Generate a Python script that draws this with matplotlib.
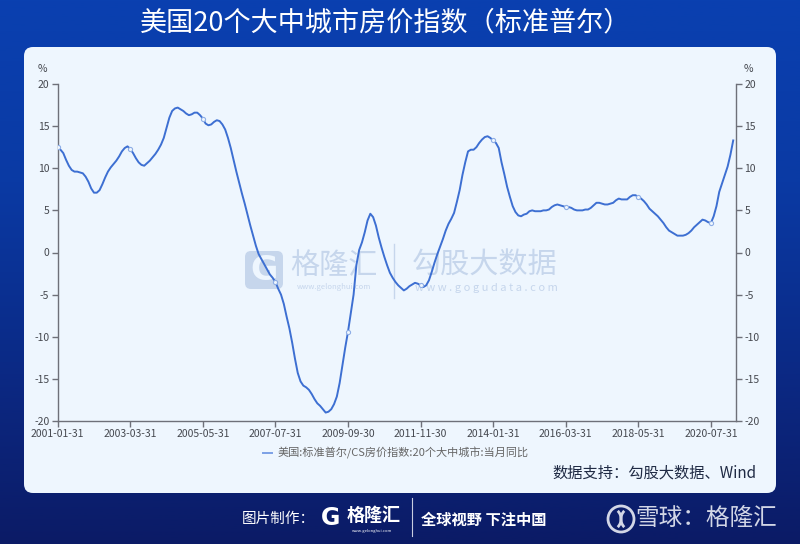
import matplotlib
matplotlib.use('Agg')
import matplotlib.pyplot as plt
from matplotlib.patches import FancyBboxPatch, Circle, Arc
from matplotlib.colors import LinearSegmentedColormap
import numpy as np

plt.rcParams['font.family'] = ['Noto Sans CJK SC', 'DejaVu Sans']
plt.rcParams['axes.unicode_minus'] = False

title = '美国20个大中城市房价指数（标准普尔）'
series_name = '美国:标准普尔/CS房价指数:20个大中城市:当月同比'
source = '数据支持：勾股大数据、Wind'

# monthly YoY %, 2001-01 .. 2021-03
yoy = [
    12.5, 12.2, 11.8, 11.0, 10.3, 9.8, 9.6, 9.6, 9.5, 9.4, 9.0, 8.4,        # 2001
    7.6, 7.1, 7.1, 7.4, 8.1, 8.9, 9.6, 10.1, 10.5, 10.9, 11.4, 12.0,        # 2002
    12.4, 12.6, 12.3, 11.8, 11.2, 10.7, 10.4, 10.3, 10.6, 10.9, 11.3, 11.7, # 2003
    12.2, 12.8, 13.6, 14.8, 16.0, 16.8, 17.1, 17.2, 17.0, 16.8, 16.5, 16.3, # 2004
    16.4, 16.6, 16.6, 16.3, 15.9, 15.3, 15.1, 15.2, 15.5, 15.7, 15.6, 15.2, # 2005
    14.6, 13.6, 12.4, 11.0, 9.6, 8.3, 7.0, 5.8, 4.5, 3.2, 2.0, 0.8,         # 2006
    -0.2, -0.8, -1.4, -2.0, -2.6, -3.0, -3.5, -4.3, -5.0, -6.1, -7.6, -9.0, # 2007
    -10.7, -12.6, -14.3, -15.3, -15.8, -16.0, -16.3, -16.8, -17.4, -17.9, -18.2, -18.6,  # 2008
    -19.0, -18.9, -18.6, -18.0, -17.1, -15.5, -13.4, -11.3, -9.4, -7.2, -5.0, -1.5,      # 2009
    0.3, 1.2, 2.4, 3.8, 4.6, 4.2, 3.2, 1.8, 0.6, -0.5, -1.5, -2.4,          # 2010
    -3.0, -3.5, -3.9, -4.2, -4.5, -4.3, -4.0, -3.8, -3.6, -3.7, -3.9, -4.1, # 2011
    -3.9, -3.3, -2.3, -1.2, -0.2, 0.7, 1.6, 2.6, 3.4, 4.0, 4.7, 6.0,        # 2012
    7.4, 9.2, 10.7, 12.0, 12.2, 12.2, 12.5, 13.0, 13.4, 13.7, 13.8, 13.6,   # 2013
    13.3, 13.0, 12.4, 10.7, 9.3, 7.8, 6.6, 5.5, 4.8, 4.4, 4.3, 4.5,         # 2014
    4.6, 4.9, 5.0, 4.9, 4.9, 4.9, 5.0, 5.0, 5.1, 5.4, 5.6, 5.7,             # 2015
    5.6, 5.5, 5.4, 5.4, 5.3, 5.1, 5.0, 5.0, 5.0, 5.1, 5.1, 5.3,             # 2016
    5.6, 5.9, 5.9, 5.8, 5.7, 5.7, 5.8, 5.9, 6.2, 6.4, 6.3, 6.3,             # 2017
    6.3, 6.6, 6.8, 6.8, 6.6, 6.4, 6.1, 5.7, 5.2, 4.9, 4.6, 4.3,             # 2018
    3.9, 3.5, 3.0, 2.6, 2.4, 2.2, 2.0, 2.0, 2.0, 2.1, 2.3, 2.6,             # 2019
    3.0, 3.3, 3.6, 3.9, 3.8, 3.6, 3.5, 4.3, 5.5, 7.2, 8.2, 9.2,             # 2020
    10.2, 11.6, 13.3,                                                       # 2021
]

tick_labels = ['2001-01-31', '2003-03-31', '2005-05-31', '2007-07-31', '2009-09-30',
               '2011-11-30', '2014-01-31', '2016-03-31', '2018-05-31', '2020-07-31']
yticks = [-20, -15, -10, -5, 0, 5, 10, 15, 20]

fig = plt.figure(figsize=(8, 5.44), dpi=100)

# background layer, in pixel units
bg = fig.add_axes([0, 0, 1, 1])
bg.set_xlim(0, 800)
bg.set_ylim(544, 0)
bg.axis('off')
grad = np.linspace(0, 1, 256).reshape(-1, 1)
cmap = LinearSegmentedColormap.from_list('bgc', ['#0a40b0', '#0a3aa4', '#0b2a86', '#0b1b66'])
bg.imshow(grad, cmap=cmap, extent=[0, 800, 544, 0], aspect='auto')

panel = FancyBboxPatch((24, 47), 752, 446, boxstyle='round,pad=0,rounding_size=9',
                       facecolor='#eef6fe', edgecolor='none')
bg.add_patch(panel)

bg.text(386, 23, title, color='white', fontsize=19.5, ha='center', va='center')

# watermark
wm = '#c6d6ec'
bg.add_patch(FancyBboxPatch((245, 251), 38, 38, boxstyle='round,pad=0,rounding_size=6',
                            facecolor=wm, edgecolor='none'))
bg.text(264, 270, 'G', color='#eef6fe', fontsize=24, fontweight='bold', ha='center', va='center',
        family='DejaVu Sans')
bg.text(334, 266, '格隆汇', color=wm, fontsize=21, ha='center', va='center')
bg.text(334, 287, 'www.gelonghui.com', color=wm, fontsize=5.5, ha='center', va='center')
bg.plot([394, 394], [244, 298], color=wm, lw=1)
bg.text(485, 266, '勾股大数据', color=wm, fontsize=21, ha='center', va='center')
bg.text(486, 288, 'w w w . g o g u d a t a . c o m', color=wm, fontsize=8, ha='center', va='center')

bg.text(757, 473, source, color='#1f2a44', fontsize=11, ha='right', va='center')

# footer
bg.text(278, 519, '图片制作：', color='white', fontsize=10.5, ha='center', va='center')
bg.text(331, 518, 'G', color='white', fontsize=17, fontweight='bold', ha='center', va='center',
        family='DejaVu Sans')
bg.text(374, 515, '格隆汇', color='white', fontsize=13, fontweight='bold', ha='center', va='center')
bg.text(372, 531, 'www.gelonghui.com', color='white', fontsize=3, ha='center', va='center')
bg.plot([412, 412], [498, 536], color='#c8cde0', lw=0.8)
bg.text(484, 520, '全球视野 下注中国', color='white', fontsize=11, fontweight='bold', ha='center', va='center')
bg.add_patch(Circle((621, 519), 13, fill=False, edgecolor='#d2d6e6', lw=2))
bg.add_patch(Arc((613, 519), 16, 20, theta1=-60, theta2=60, edgecolor='#d2d6e6', lw=2))
bg.add_patch(Arc((629, 519), 16, 20, theta1=120, theta2=240, edgecolor='#d2d6e6', lw=2))
bg.text(706, 518, '雪球：格隆汇', color='#d2d6e6', fontsize=17, ha='center', va='center')

# chart
ax = fig.add_axes([57.7 / 800, 1 - 421 / 544, (736 - 57.7) / 800, (421 - 84) / 544])
ax.set_facecolor('none')
x = np.arange(len(yoy))
ax.plot(x, yoy, color='#3d6fd2', lw=1.4, marker='o', markersize=3, markevery=26,
        markerfacecolor='#eef6fe', markeredgecolor='#8eaee6', markeredgewidth=0.8,
        label=series_name, zorder=3)
ax.set_xlim(0, len(yoy))
ax.set_ylim(-20, 20)
ax.set_yticks(yticks)
ax.set_xticks(np.arange(len(tick_labels)) * 26)
ax.set_xticklabels(tick_labels)
ax.spines['top'].set_visible(False)
for s in ['left', 'right', 'bottom']:
    ax.spines[s].set_color('#6e7079')
    ax.spines[s].set_linewidth(1)
ax.tick_params(axis='both', colors='#6e7079', labelcolor='#45484f', labelsize=7.5, length=4, width=1)
ax.tick_params(axis='y', right=True, labelright=True, pad=2)
ax.tick_params(axis='x', pad=2)
ax.text(-0.022, 1.035, '%', transform=ax.transAxes, fontsize=7.5, color='#45484f', ha='center')
ax.text(1.018, 1.035, '%', transform=ax.transAxes, fontsize=7.5, color='#45484f', ha='center')

leg = fig.legend(loc='center', bbox_to_anchor=(396 / 800, 1 - 453 / 544), frameon=False,
                 fontsize=8, handlelength=0.8, handletextpad=0.5, markerscale=0)
for t in leg.get_texts():
    t.set_color('#666666')
for h in leg.get_lines():
    h.set_color('#7ba0e6')
    h.set_marker('')

fig.savefig('out.png', dpi=100)
